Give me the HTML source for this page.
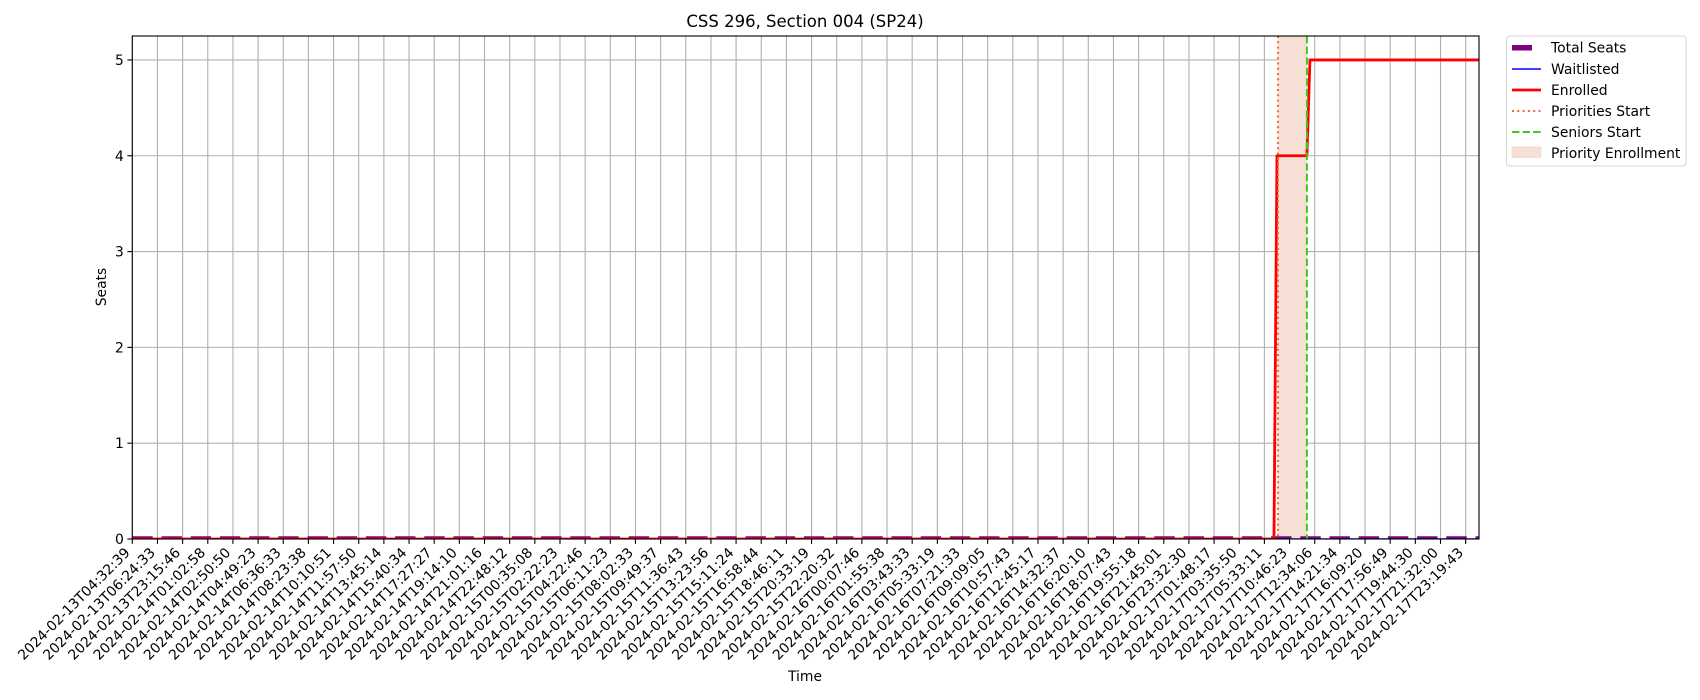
<!DOCTYPE html>
<html><head><meta charset="utf-8"><style>
html,body{margin:0;padding:0;background:#fff;}
svg{display:block;font-family:"DejaVu Sans","Liberation Sans",sans-serif;}
</style></head><body>
<svg id="chart" width="1700" height="700" viewBox="0 0 1700 700" xmlns="http://www.w3.org/2000/svg">
<rect x="0" y="0" width="1700" height="700" fill="#fff"/>
<g id="grid"></g>
<g id="marks"></g>
<g id="axes"></g>
<text x="805" y="27" font-size="16.5" text-anchor="middle" fill="#000">CSS 296, Section 004 (SP24)</text>
<text x="0" y="0" font-size="13.9" text-anchor="middle" fill="#000" transform="translate(106,287) rotate(-90)">Seats</text>
<text x="805" y="681" font-size="13.9" text-anchor="middle" fill="#000">Time</text>
<g id="legend">
<rect x="1506.5" y="36" width="179.5" height="130" rx="3" fill="#fff" fill-opacity="0.8" stroke="#d6d6d6" stroke-width="1"/>
<g><line x1="1512" y1="47.7" x2="1532" y2="47.7" stroke="#800080" stroke-width="5.5"/><text x="1551" y="52.5" font-size="13.9">Total Seats</text></g>
<g><line x1="1512" y1="69" x2="1541" y2="69" stroke="#0000ff" stroke-width="1.4"/><text x="1551" y="73.8" font-size="13.9">Waitlisted</text></g>
<g><line x1="1512" y1="90" x2="1541" y2="90" stroke="#ff0000" stroke-width="2.8"/><text x="1551" y="94.8" font-size="13.9">Enrolled</text></g>
<g><line x1="1512" y1="111" x2="1541" y2="111" stroke="#ee6a30" stroke-width="2" stroke-dasharray="2,3.3"/><text x="1551" y="115.8" font-size="13.9">Priorities Start</text></g>
<g><line x1="1512" y1="132" x2="1541" y2="132" stroke="#3ecc1a" stroke-width="2" stroke-dasharray="7.4,3.2"/><text x="1551" y="136.8" font-size="13.9">Seniors Start</text></g>
<g><rect x="1512" y="147" width="29" height="10.5" fill="#f6e0d5" stroke="#f3d3c3" stroke-width="0.7"/><text x="1551" y="157.8" font-size="13.9">Priority Enrollment</text></g>
</g>
</svg>
<script>
const tickLabels = ["2024-02-13T04:32:39","2024-02-13T06:24:33","2024-02-13T23:15:46","2024-02-14T01:02:58","2024-02-14T02:50:50","2024-02-14T04:49:23","2024-02-14T06:36:33","2024-02-14T08:23:38","2024-02-14T10:10:51","2024-02-14T11:57:50","2024-02-14T13:45:14","2024-02-14T15:40:34","2024-02-14T17:27:27","2024-02-14T19:14:10","2024-02-14T21:01:16","2024-02-14T22:48:12","2024-02-15T00:35:08","2024-02-15T02:22:23","2024-02-15T04:22:46","2024-02-15T06:11:23","2024-02-15T08:02:33","2024-02-15T09:49:37","2024-02-15T11:36:43","2024-02-15T13:23:56","2024-02-15T15:11:24","2024-02-15T16:58:44","2024-02-15T18:46:11","2024-02-15T20:33:19","2024-02-15T22:20:32","2024-02-16T00:07:46","2024-02-16T01:55:38","2024-02-16T03:43:33","2024-02-16T05:33:19","2024-02-16T07:21:33","2024-02-16T09:09:05","2024-02-16T10:57:43","2024-02-16T12:45:17","2024-02-16T14:32:37","2024-02-16T16:20:10","2024-02-16T18:07:43","2024-02-16T19:55:18","2024-02-16T21:45:01","2024-02-16T23:32:30","2024-02-17T01:48:17","2024-02-17T03:35:50","2024-02-17T05:33:11","2024-02-17T10:46:23","2024-02-17T12:34:06","2024-02-17T14:21:34","2024-02-17T16:09:20","2024-02-17T17:56:49","2024-02-17T19:44:30","2024-02-17T21:32:00","2024-02-17T23:19:43"];
const yTicks = [0,1,2,3,4,5];
const enrolledX = [0, 45.38, 45.5, 46.69, 46.81, 53.53];
const enrolledY = [0, 0, 4, 4, 5, 5];
const totalSeatsX = [0, 53.53];
const totalSeatsY = [0, 0];
const waitlistedX = [0, 53.53];
const waitlistedY = [0, 0];
const prioritiesStart = 45.54;
const seniorsStart = 46.69;
const xMin = 0, xMax = 53.53, yMin = 0, yMax = 5.25;

const L = 132.3, R = 1479, T = 36, B = 539;
const NS = "http://www.w3.org/2000/svg";
function sx(v){ return L + (v - xMin) / (xMax - xMin) * (R - L); }
function sy(v){ return B - (v - yMin) / (yMax - yMin) * (B - T); }
function mk(tag, attrs, parent){
  const e = document.createElementNS(NS, tag);
  for (const k in attrs) e.setAttribute(k, attrs[k]);
  parent.appendChild(e); return e;
}
const grid = document.getElementById('grid');
const marks = document.getElementById('marks');
const axes = document.getElementById('axes');

const defs = mk('defs', {}, document.getElementById('chart'));
const cp = mk('clipPath', {id:'clip'}, defs);
mk('rect', {x:L, y:T, width:R-L, height:B-T}, cp);
marks.setAttribute('clip-path', 'url(#clip)');

tickLabels.forEach((lab, i) => {
  const x = sx(i);
  const g = mk('line', {x1:x, y1:T, x2:x, y2:B, stroke:'#b0b0b0', 'stroke-width':1.1}, grid);
  
  
  const t = mk('line', {x1:x, y1:B, x2:x, y2:B+4.9, stroke:'#000', 'stroke-width':1.1}, axes);
  
  
  const tx = mk('text', {x:0, y:0, 'font-size':13.9, 'text-anchor':'end', fill:'#000', transform:'translate(' + (x - 1.5) + ',' + (B + 14.5) + ') rotate(-45)'}, axes);
  tx.textContent = lab;
  
  
});
yTicks.forEach(v => {
  const y = sy(v);
  const g = mk('line', {x1:L, y1:y, x2:R, y2:y, stroke:'#b0b0b0', 'stroke-width':1.1}, grid);
  
  
  const t = mk('line', {x1:L-4.9, y1:y, x2:L, y2:y, stroke:'#000', 'stroke-width':1.1}, axes);
  
  
  const tx = mk('text', {x:L-8.5, y:y+5, 'font-size':13.9, 'text-anchor':'end', fill:'#000'}, axes);
  tx.textContent = String(v);
  
  
});

const span = mk('rect', {x:sx(prioritiesStart), y:T, width:sx(seniorsStart)-sx(prioritiesStart), height:B-T, fill:'#f6e0d5'}, marks);



function pts(xs, ys){ return xs.map((x,i)=> sx(x) + ',' + sy(ys[i])).join(' '); }
const ts = mk('polyline', {points:pts(totalSeatsX,totalSeatsY), fill:'none', stroke:'#800080', 'stroke-width':5.5, 'stroke-dasharray':'20.4,8.8'}, marks);


const wl = mk('polyline', {points:pts(waitlistedX,waitlistedY), fill:'none', stroke:'#0000ff', 'stroke-width':1.4}, marks);


const en = mk('polyline', {points:pts(enrolledX,enrolledY), fill:'none', stroke:'#ff0000', 'stroke-width':2.8, 'stroke-linejoin':'round'}, marks);


const pl = mk('line', {x1:sx(prioritiesStart), y1:T, x2:sx(prioritiesStart), y2:B, stroke:'#ee6a30', 'stroke-width':2, 'stroke-dasharray':'2,3.3'}, marks);


const sl = mk('line', {x1:sx(seniorsStart), y1:T, x2:sx(seniorsStart), y2:B, stroke:'#3ecc1a', 'stroke-width':2, 'stroke-dasharray':'7.4,3.2'}, marks);



const frame = mk('rect', {x:L, y:T, width:R-L, height:B-T, fill:'none', stroke:'#000', 'stroke-width':1.1}, axes);


</script>
</body></html>
